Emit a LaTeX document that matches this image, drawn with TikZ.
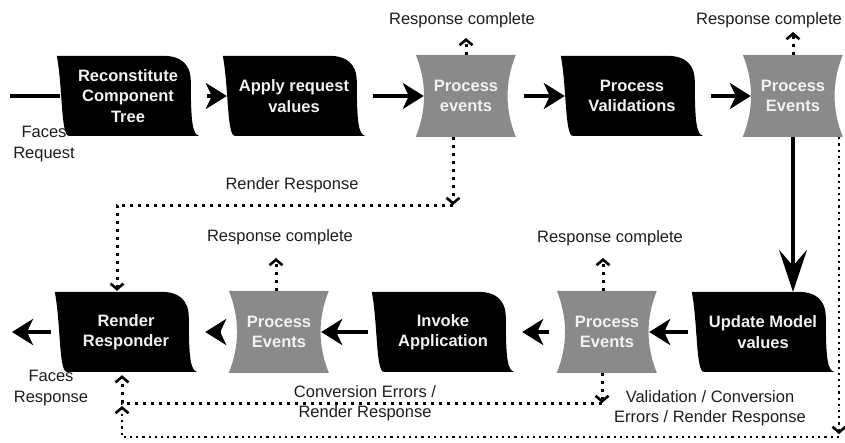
\documentclass[tikz,border=0pt]{standalone}
\usepackage{fontspec}
\setmainfont{Liberation Sans}
\usetikzlibrary{arrows.meta,calc,backgrounds}

\definecolor{phasegray}{HTML}{8A8A8A}
\definecolor{phasetext}{HTML}{F2F2F2}
\definecolor{labeltext}{HTML}{1E1E1E}

% outline of a black phase box (tape-like, wavy sides), 142 x 80
\newcommand\blackoutline[1]{%
  \begin{scope}[shift={(#1.north west)}]
    \fill[black] (0,0) -- (106,0) .. controls (124,0) and (134,8) .. (134,26)
      .. controls (134,68) and (136,78) .. (142,80) -- (12,80)
      .. controls (4,80) and (6,32) .. (0,0) -- cycle;
  \end{scope}}
% outline of a grey event box (concave sides), 100 x 82
\newcommand\greyoutline[1]{%
  \begin{scope}[shift={(#1.north west)}]
    \fill[phasegray] (0,0) -- (100,0) .. controls (89,27) and (89,55) .. (100,82)
      -- (0,82) .. controls (11,55) and (11,27) .. (0,0) -- cycle;
  \end{scope}}

\begin{document}
\begin{tikzpicture}[x=1pt,y=-1pt,
  every node/.style={inner sep=0pt, align=center,
    font=\fontsize{16.5}{20.5}\selectfont, text=labeltext},
  blackphase/.style={minimum width=142pt, minimum height=80pt, text=phasetext,
    font=\fontsize{16.5}{20.5}\selectfont\bfseries},
  greyphase/.style={minimum width=100pt, minimum height=82pt, text=phasetext,
    font=\fontsize{16.5}{20.5}\selectfont\bfseries},
  flow/.style={line width=3.5pt, -{Stealth[length=21pt,width=26pt,inset=6pt]}},
  bigflow/.style={line width=3.5pt, -{Stealth[length=42pt,width=28pt,inset=16pt]}},
  plainflow/.style={line width=3.5pt},
  dotline/.style={line width=3pt, dash pattern=on 3pt off 5pt},
  finedot/.style={line width=2.2pt, dash pattern=on 2.2pt off 4pt},
  barb/.style={-{Straight Barb[length=5.5pt,width=13pt,line width=2.6pt]}},
]
\useasboundingbox (0,0) rectangle (845,442);

% ---- upper row ----
\node[blackphase] (rct) at (128,96) {Reconstitute\\Component\\Tree};
\node[blackphase] (arv) at (294,96) {Apply request\\values};
\node[greyphase]  (pe1) at (466,96) {Process\\events};
\node[blackphase] (pv)  at (632,96) {Process\\Validations};
\node[greyphase]  (pe2) at (793,96) {Process\\Events};

% ---- lower row ----
\node[blackphase] (rr)  at (126,332) {Render\\Responder};
\node[greyphase]  (pe3) at (279,332) {Process\\Events};
\node[blackphase] (ia)  at (443,332) {Invoke\\Application};
\node[greyphase]  (pe4) at (607,332) {Process\\Events};
\node[blackphase] (umv) at (763,332) {Update Model\\values};

% ---- labels ----
\node (lreq)  at (44,144)  {Faces\\Request};
\node (lresp) at (51,388)  {Faces\\Response};
\node (lrc1)  at (462,20)  {Response complete};
\node (lrc2)  at (769,20)  {Response complete};
\node (lrc3)  at (280,237) {Response complete};
\node (lrc4)  at (610,238) {Response complete};
\node (lrend) at (292,185) {Render Response};
\node (lconv) at (365,403) {Conversion Errors /\\Render Response};
\node (lval)  at (710,408) {Validation / Conversion\\Errors / Render Response};

% ---- free ends and bends ----
\coordinate (in)    at (10,96);
\coordinate (out)   at (12,332);
\coordinate (up1)   at (466,38);
\coordinate (up2)   at (793,32);
\coordinate (up3)   at (276,258);
\coordinate (up4)   at (603,258);
\coordinate (rrbend) at (453,205);
\coordinate (rrleft) at (117,205);
\coordinate (cvbend) at (602,403);
\coordinate (cvleft) at (122,403);
\coordinate (lgbend) at (839,434);
\coordinate (lgright) at (839,437);
\coordinate (lgleft) at (122,437);
\coordinate (lgend)  at (122,406);

% ---- main flow ----
\draw[plainflow, shorten >=-3pt] (in) -- (rct.west);
\draw[flow, shorten <=8pt, shorten >=-4pt] (rct.east) -- (arv.west);
\draw[flow, shorten <=8pt, shorten >=-8pt] (arv.east) -- (pe1.west);
\draw[flow, shorten <=8pt, shorten >=-4pt] (pe1.east) -- (pv.west);
\draw[flow, shorten <=8pt, shorten >=-8pt] (pv.east)  -- (pe2.west);
\draw[bigflow] (pe2.south) -- (pe2.south |- umv.north);
\draw[flow, shorten <=4pt, shorten >=-8pt] (umv.west) -- (pe4.east);
\draw[flow, shorten <=8pt, shorten >=8pt]  (pe4.west) -- (ia.east);
\draw[flow, shorten <=4pt, shorten >=-8pt] (ia.west)  -- (pe3.east);
\draw[flow, shorten <=8pt, shorten >=8pt]  (pe3.west) -- (rr.east);
\draw[flow, shorten <=4pt] (rr.west) -- (out);

% ---- response complete exits ----
\draw[dotline, barb] (pe1.north) -- (up1);
\draw[dotline, barb] (pe2.north) -- (up2);
\draw[dotline, barb] (pe3.north -| up3) -- (up3);
\draw[dotline, barb] (pe4.north -| up4) -- (up4);

% ---- render response shortcut ----
\draw[dotline, barb] (pe1.south -| rrbend) -- (rrbend);
\draw[dotline, barb, shorten >=1pt] (rrbend) -- (rrleft) -- (rr.north -| rrleft);

% ---- conversion errors shortcut ----
\draw[dotline, barb] (pe4.south -| cvbend) -- (cvbend);
\draw[dotline, barb, shorten >=3pt] (cvbend) -- (cvleft) -- (rr.south -| cvleft);

% ---- validation / conversion errors shortcut ----
\draw[finedot, barb] (pe2.south -| lgbend) -- (lgbend);
\draw[finedot, barb] (lgright) -- (lgleft) -- (lgend);

% ---- box outlines behind the texts ----
\begin{scope}[on background layer]
  \fill[white] (0,0) rectangle (845,442);
  \blackoutline{rct}
  \blackoutline{arv}
  \greyoutline{pe1}
  \blackoutline{pv}
  \greyoutline{pe2}
  \blackoutline{rr}
  \greyoutline{pe3}
  \blackoutline{ia}
  \greyoutline{pe4}
  \blackoutline{umv}
\end{scope}
\end{tikzpicture}
\end{document}
